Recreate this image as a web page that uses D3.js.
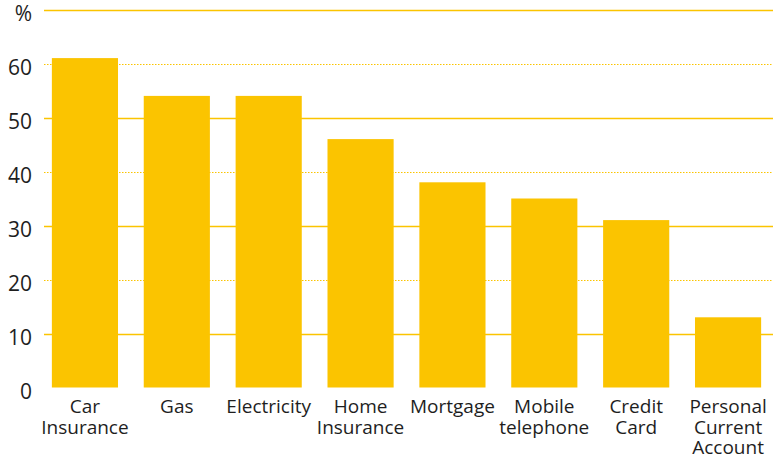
<!DOCTYPE html>
<html>
<head>
<meta charset="utf-8">
<script src="https://cdn.jsdelivr.net/npm/d3@7"></script>
<style>
  html, body { margin: 0; padding: 0; background: #fff; }
  svg { display: block; }
  text { font-family: "Open Sans", "DejaVu Sans", sans-serif; fill: #1e1e1e; }
</style>
</head>
<body>
<svg id="chart" width="773" height="457"></svg>
<script>
const categories = [
  ["Car", "Insurance"],
  ["Gas"],
  ["Electricity"],
  ["Home", "Insurance"],
  ["Mortgage"],
  ["Mobile", "telephone"],
  ["Credit", "Card"],
  ["Personal", "Current", "Account"]
];
const values = [61, 54, 54, 46, 38, 35, 31, 13];
const yTicks = [0, 10, 20, 30, 40, 50, 60, 70];
const yTickLabels = ["0", "10", "20", "30", "40", "50", "60", "%"];

const W = 773, H = 457;
const svg = d3.select("#chart");
const color = "#FBC400";

const x = d3.scaleBand()
  .domain(categories.map((d, i) => i))
  .range([39, 774])
  .paddingInner(0.28)
  .paddingOuter(0.14);

const y = d3.scaleLinear().domain([0, 70]).range([387.5, 9.5]);

// gridlines
const grid = svg.append("g");
grid.selectAll("line")
  .data(yTicks.filter(t => t > 0))
  .join("line")
  .attr("x1", 44).attr("x2", W)
  .attr("y1", d => Math.round(y(d)) + 0.5)
  .attr("y2", d => Math.round(y(d)) + 0.5)
  .attr("stroke", color)
  .attr("stroke-width", d => (d % 20 === 0) ? 1 : 1.3)
  .attr("stroke-dasharray", d => (d % 20 === 0) ? "1.5,1.5" : null);

// bars
svg.append("g").selectAll("rect")
  .data(values)
  .join("rect")
  .attr("x", (d, i) => x(i))
  .attr("width", x.bandwidth())
  .attr("y", d => y(d))
  .attr("height", d => y(0) - y(d))
  .attr("fill", color);

// y tick labels
svg.append("g").selectAll("text")
  .data(yTicks)
  .join("text")
  .attr("x", 32)
  .attr("y", d => y(d) + 6)
  .attr("text-anchor", "end")
  .attr("dominant-baseline", "middle")
  .attr("font-size", 21)
  .text((d, i) => yTickLabels[i]);

// category labels
const labs = svg.append("g").selectAll("text")
  .data(categories)
  .join("text")
  .attr("text-anchor", "middle")
  .attr("font-size", 19)
  .attr("x", (d, i) => x(i) + x.bandwidth() / 2)
  .attr("y", 413);
labs.selectAll("tspan")
  .data(d => d)
  .join("tspan")
  .attr("x", function() { return d3.select(this.parentNode).attr("x"); })
  .attr("dy", (d, i) => i === 0 ? 0 : 20.5)
  .text(d => d);
</script>
</body>
</html>
